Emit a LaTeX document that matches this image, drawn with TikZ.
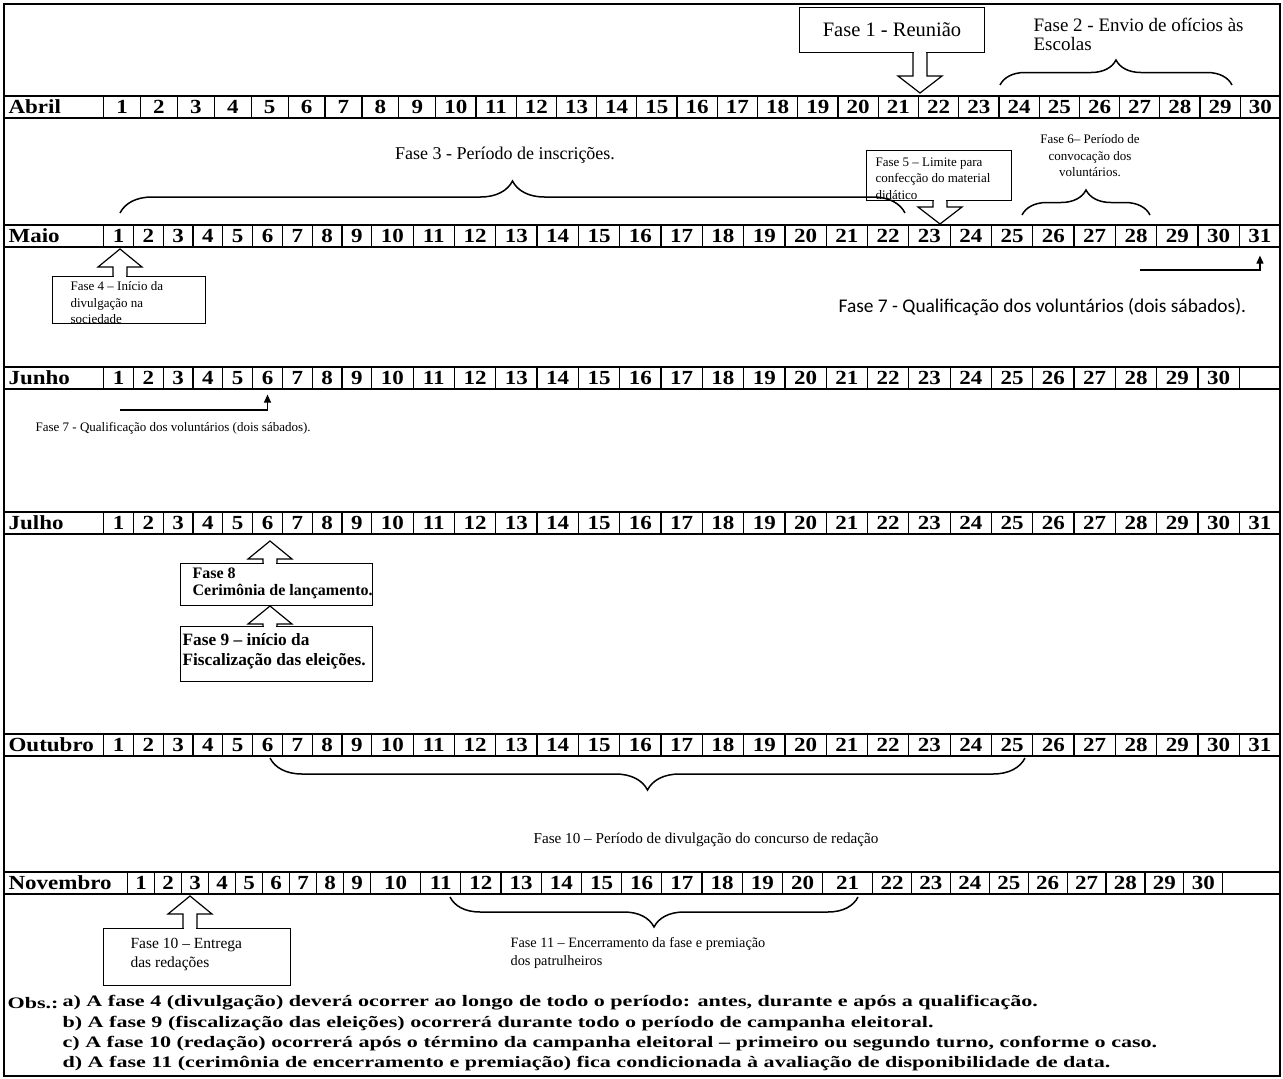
\documentclass[tikz,border=0pt]{standalone}
\usepackage{fontspec}
\setmainfont{Liberation Serif}
\newfontfamily\calibri{Carlito}
\newfontfamily\cellfont{Liberation Serif}[FakeStretch=1.15]
\newfontfamily\obsfont{Liberation Serif}[FakeStretch=1.38]
\usetikzlibrary{decorations.pathreplacing,arrows.meta}

\tikzset{
  daycell/.style={draw, line width=1.2pt, inner sep=0pt, minimum height=22pt, anchor=west,
    font=\cellfont\fontsize{20}{20}\selectfont\bfseries},
  txt/.style={font=\fontsize{19}{19}\selectfont, inner sep=0pt},
  small/.style={font=\fontsize{13}{16.5}\selectfont, inner sep=0pt, align=left},
  boldbox/.style={font=\fontsize{16}{17.5}\selectfont\bfseries, inner sep=0pt, align=left},
  obs/.style={font=\obsfont\fontsize{16}{16}\selectfont\bfseries, anchor=west, inner sep=0pt},
  curly/.style={decorate, decoration={brace, amplitude=#1}, line width=1.5pt},
  curly/.default=25,
  hook/.style={-{Triangle[length=8pt,width=7pt]}, line width=1.2pt}
}

% #1 name, #2 y, #3 month, #4 end of label cell, #5 width 1-9, #6 width 10-, #7 days, #8 blank cell
\newcommand{\monthrow}[8]{%
  \pgfmathsetmacro\lblw{#4-12}
  \node[daycell, text width=\lblw pt, inner xsep=4pt, align=left] (#1-0) at (4,#2) {#3};
  \foreach \d in {1,...,#7}{
    \pgfmathsetmacro\xl{(\d<10) ? (#4+(\d-1)*#5) : (#4+9*#5+(\d-10)*#6)}
    \pgfmathsetmacro\cw{(\d<10) ? #5 : #6}
    \node[daycell, minimum width=\cw pt] (#1-\d) at (\xl,#2) {\d};
  }
  \ifnum#8>0
    \pgfmathsetmacro\xe{#4+9*#5+(#7-9)*#6}
    \pgfmathsetmacro\bw{1280-\xe}
    \node[daycell, minimum width=\bw pt] (#1-x) at (\xe,#2) {};
  \fi
}

% block arrows of the callouts: x, tip, box edge
\newcommand{\upblock}[3]{%
  \fill[white] (#1-6.4,#3-1.5) rectangle (#1+6.4,#3+1.5);
  \draw (#1-7,#3) -- (#1-7,#2+18) -- (#1-22,#2+18) -- (#1,#2) -- (#1+22,#2+18) -- (#1+7,#2+18) -- (#1+7,#3);
}
\newcommand{\downblock}[3]{%
  \fill[white] (#1-6.4,#3-1.5) rectangle (#1+6.4,#3+1.5);
  \draw (#1-7,#3) -- (#1-7,#2-17) -- (#1-22,#2-17) -- (#1,#2) -- (#1+22,#2-17) -- (#1+7,#2-17) -- (#1+7,#3);
}

\begin{document}
\begin{tikzpicture}[x=1pt, y=-1pt, line width=1.2pt]
\useasboundingbox (0,0) rectangle (1283,1079);
\draw (4,4) rectangle (1280,1076);

% meses
\monthrow{abr}{107}{Abril}{103}{36.9}{40.23}{30}{0}
\monthrow{mai}{236}{Maio}{103}{29.8}{41.31}{31}{0}
\monthrow{jun}{378}{Junho}{103}{29.8}{41.31}{30}{1}
\monthrow{jul}{523}{Julho}{103}{29.8}{41.31}{31}{0}
\monthrow{out}{745}{Outubro}{103}{29.8}{41.31}{31}{0}
% novembro: widths read cell by cell
\node[daycell, text width=115pt, inner xsep=4pt, align=left] (nov-0) at (4,883) {Novembro};
\xdef\xr{127}
\foreach \w [count=\d] in {27,27,27,27,27,27,27,27,27,50,40.2,40.2,40.2,40.2,40.2,40.2,40.2,40.2,40.2,40.2,
    50,38.9,38.9,38.9,38.9,38.9,38.9,38.9,38.9,38.9}{
  \node[daycell, minimum width=\w pt] (nov-\d) at (\xr,883) {\d};
  \pgfmathsetmacro\tmp{\xr+\w}\global\let\xr\tmp
}
\pgfmathsetmacro\bw{1280-\xr}
\node[daycell, minimum width=\bw pt] (nov-x) at (\xr,883) {};

% abril
\node[draw, minimum width=185, minimum height=45, txt, font=\fontsize{20.5}{20.5}\selectfont] (f1) at (892,30) {Fase 1 - Reunião};
\downblock{920}{93}{53}
\node[txt, anchor=north west, align=left] (f2) at (1033,18) {Fase 2 - Envio de ofícios às\\Escolas};
\draw[curly] (1000,85) -- (1232,85);

% maio
\node[txt, font=\fontsize{18}{18}\selectfont] (f3) at (505,155) {Fase 3 - Período de inscrições.};
\draw[curly=32] (120,213) -- (905,213);
\node[draw, anchor=north west, minimum width=145, minimum height=50] (f5) at (866,150) {};
\node[small, anchor=north west] (f5t) at (875,157) {Fase 5 – Limite para\\confecção do material\\didático};
\downblock{940}{224}{200}
\node[small, align=center] (f6) at (1090,156) {Fase 6– Período de\\convocação dos\\voluntários.};
\draw[curly] (1022,215) -- (1150,215);

\node[draw, anchor=north west, minimum width=153, minimum height=47] (f4) at (52,276) {};
\node[small, anchor=north west] (f4t) at (70,281) {Fase 4 – Início da\\divulgação na\\sociedade};
\upblock{120}{249}{276}
\coordinate (h1) at (1140,270);
\draw[hook] (h1) -| ([yshift=-8pt]mai-31.south);
\node[txt, anchor=west, font=\calibri\fontsize{19.4}{20}\selectfont] (f7a) at (838,307) {Fase 7 - Qualificação dos voluntários (dois sábados).};

% junho
\coordinate (h2) at (120,410);
\draw[hook] (h2) -| ([yshift=-5pt]jun-6.south);
\node[small, anchor=west] (f7b) at (35,428) {Fase 7 - Qualificação dos voluntários (dois sábados).};

% julho
\node[draw, anchor=north west, minimum width=192, minimum height=42] (f8) at (180,563) {};
\node[boldbox, anchor=north west] (f8t) at (192,567) {Fase 8\\Cerimônia de lançamento.};
\upblock{270}{541}{563}
\node[draw, anchor=north west, minimum width=192, minimum height=55] (f9) at (180,626) {};
\node[boldbox, anchor=north west, font=\fontsize{17.3}{20}\selectfont\bfseries] (f9t) at (182,633) {Fase 9 – início da\\Fiscalização das eleições.};
\upblock{270}{606}{626}

% outubro
\draw[curly=32, decoration={mirror}] (270,758) -- (1025,758);
\node[txt, font=\fontsize{15.2}{15.2}\selectfont] (f10) at (706,840) {Fase 10 – Período de divulgação do concurso de redação};

% novembro
\node[draw, anchor=north west, minimum width=187, minimum height=57] (f10b) at (103,928) {};
\node[small, anchor=north west, font=\fontsize{15.5}{19}\selectfont] (f10t) at (130,938) {Fase 10 – Entrega\\das  redações};
\upblock{190}{896}{928}
\draw[curly=30, decoration={mirror}] (450,897) -- (858,897);
\node[small, anchor=north west, font=\fontsize{14.3}{18}\selectfont] (f11) at (510,937) {Fase 11 – Encerramento da fase e premiação\\dos patrulheiros};

% observacoes
\node[obs] (obs) at (7,1003) {Obs.:};
\node[obs] (obsa) at (62,1003) {a) A fase 4 (divulgação) deverá ocorrer ao longo de todo o período: antes, durante e após a qualificação.};
\node[obs] (obsb) at (62,1024) {b) A fase 9 (fiscalização das eleições) ocorrerá durante todo o período de campanha eleitoral.};
\node[obs] (obsc) at (62,1044) {c) A fase 10 (redação) ocorrerá após o término da campanha eleitoral – primeiro ou segundo turno, conforme o caso.};
\node[obs] (obsd) at (62,1064) {d) A fase 11 (cerimônia de encerramento e premiação) fica condicionada à avaliação de disponibilidade de data.};
\end{tikzpicture}
\end{document}
